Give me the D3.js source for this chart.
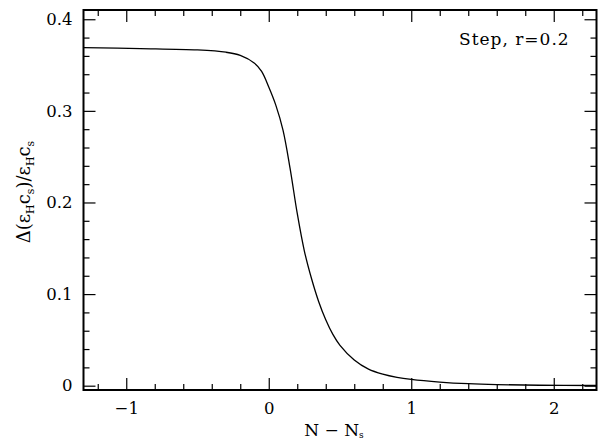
<!DOCTYPE html>
<html>
<head>
<meta charset="utf-8">
<script src="https://cdn.jsdelivr.net/npm/d3@7"></script>
<style>
  body { margin: 0; background: #fff; }
  svg { display: block; }
  text { font-family: "DejaVu Serif", "Liberation Serif", serif; }
  .axis text { font-size: 16.5px; fill: #000; }
  .axis path { display: none; }
  .axis line { stroke: #000; stroke-width: 1.2; }
</style>
</head>
<body>
<svg id="chart" width="599" height="441"></svg>
<script>
// curve
const nValues = [-1.3, -0.9, -0.5, -0.3, -0.2, -0.1, -0.05, 0, 0.05, 0.1, 0.15, 0.2,
                 0.25, 0.3, 0.35, 0.4, 0.45, 0.5, 0.6, 0.7, 0.8, 0.9, 1.0, 1.2,
                 1.4, 1.6, 1.9, 2.3];
const ratioValues = [0.369, 0.368, 0.3665, 0.364, 0.3605, 0.352, 0.343, 0.326, 0.306, 0.279, 0.237, 0.188,
                     0.147, 0.117, 0.092, 0.072, 0.056, 0.044, 0.028, 0.018, 0.0125, 0.009, 0.0068, 0.004,
                     0.0022, 0.0012, 0.0005, 0.0002];

const xMajor = [-1, 0, 1, 2];
const xMinor = [-1.2, -0.8, -0.6, -0.4, -0.2, 0.2, 0.4, 0.6, 0.8, 1.2, 1.4, 1.6, 1.8, 2.2];
const yMajor = [0, 0.1, 0.2, 0.3, 0.4];
const yMinor = [0.02, 0.04, 0.06, 0.08, 0.12, 0.14, 0.16, 0.18, 0.22, 0.24, 0.26, 0.28,
                0.32, 0.34, 0.36, 0.38];

const svg = d3.select("#chart"),
      margin = { top: 10, right: 2.5, bottom: 51, left: 83.5 },
      width = +svg.attr("width") - margin.left - margin.right,
      height = +svg.attr("height") - margin.top - margin.bottom;

const g = svg.append("g")
    .attr("transform", `translate(${margin.left},${margin.top})`);

const x = d3.scaleLinear().domain([-1.3, 2.3]).range([0, width]);
const y = d3.scaleLinear().domain([-0.0047, 0.4101]).range([height, 0]);

const fmtY = d => d === 0 ? "0" : d3.format(".1f")(d);
const fmtX = d => d < 0 ? "\u2212" + Math.abs(d) : String(d);

// bottom / top
g.append("g").attr("class", "axis")
    .attr("transform", `translate(0,${height})`)
    .call(d3.axisBottom(x).tickValues(xMajor).tickSize(-12).tickPadding(12).tickFormat(fmtX));
g.append("g").attr("class", "axis")
    .attr("transform", `translate(0,${height})`)
    .call(d3.axisBottom(x).tickValues(xMinor).tickSize(-6).tickFormat(""));
g.append("g").attr("class", "axis")
    .call(d3.axisTop(x).tickValues(xMajor).tickSize(-12).tickFormat(""));
g.append("g").attr("class", "axis")
    .call(d3.axisTop(x).tickValues(xMinor).tickSize(-6).tickFormat(""));

// left / right
g.append("g").attr("class", "axis")
    .call(d3.axisLeft(y).tickValues(yMajor).tickSize(-12).tickPadding(11).tickFormat(fmtY));
g.append("g").attr("class", "axis")
    .call(d3.axisLeft(y).tickValues(yMinor).tickSize(-6).tickFormat(""));
g.append("g").attr("class", "axis")
    .attr("transform", `translate(${width},0)`)
    .call(d3.axisRight(y).tickValues(yMajor).tickSize(-12).tickFormat(""));
g.append("g").attr("class", "axis")
    .attr("transform", `translate(${width},0)`)
    .call(d3.axisRight(y).tickValues(yMinor).tickSize(-6).tickFormat(""));

// frame
g.append("rect")
    .attr("width", width)
    .attr("height", height)
    .attr("fill", "none")
    .attr("stroke", "#000")
    .attr("stroke-width", 2);

// curve
const pts = nValues.map((n, i) => [n, ratioValues[i]]);
g.append("path")
    .datum(pts)
    .attr("fill", "none")
    .attr("stroke", "#000")
    .attr("stroke-width", 1.3)
    .attr("d", d3.line().x(d => x(d[0])).y(d => y(d[1])).curve(d3.curveCatmullRom));

// label
svg.append("text")
    .attr("x", 459)
    .attr("y", 45)
    .attr("font-size", "17px")
    .attr("letter-spacing", "1px")
    .text("Step, r=0.2");

// x title
const xt = svg.append("text")
    .attr("x", 334)
    .attr("y", 436)
    .attr("text-anchor", "middle")
    .attr("font-size", "17px");
xt.append("tspan").text("N \u2212 N");
xt.append("tspan").attr("dy", 2).attr("font-size", "9px").text("s");

// y title
const yt = svg.append("text")
    .attr("transform", "translate(30,192) rotate(-90)")
    .attr("text-anchor", "middle")
    .attr("font-size", "18px");
yt.append("tspan").text("\u0394(\u03b5");
yt.append("tspan").attr("dy", 4).attr("font-size", "11px").text("H");
yt.append("tspan").attr("dy", -4).text("c");
yt.append("tspan").attr("dy", 4).attr("font-size", "11px").text("s");
yt.append("tspan").attr("dy", -4).text(")/\u03b5");
yt.append("tspan").attr("dy", 4).attr("font-size", "11px").text("H");
yt.append("tspan").attr("dy", -4).text("c");
yt.append("tspan").attr("dy", 4).attr("font-size", "11px").text("s");
</script>
</body>
</html>
